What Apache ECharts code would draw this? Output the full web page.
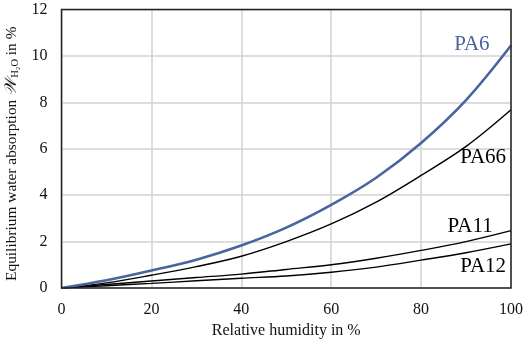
<!DOCTYPE html>
<html>
<head>
<meta charset="utf-8">
<script src="https://cdn.jsdelivr.net/npm/echarts@6/dist/echarts.min.js"></script>
<style>
  html, body { margin: 0; padding: 0; background: #fff; }
  #chart { width: 523px; height: 339px; }
</style>
</head>
<body>
<div id="chart"></div>
<script>
// Relative humidity (%) sample points
const humidity = [0, 10, 20, 30, 40, 50, 60, 70, 80, 90, 100];

// Equilibrium water absorption (%) for each polyamide
const pa6  = [0, 0.33, 0.75, 1.22, 1.83, 2.60, 3.58, 4.75, 6.25, 8.10, 10.45];
const pa66 = [0, 0.22, 0.55, 0.92, 1.37, 2.00, 2.76, 3.70, 4.85, 6.10, 7.68];
const pa11 = [0, 0.15, 0.30, 0.45, 0.60, 0.80, 1.00, 1.28, 1.62, 2.00, 2.47];
const pa12 = [0, 0.10, 0.20, 0.31, 0.42, 0.52, 0.68, 0.90, 1.20, 1.52, 1.90];

// Curve names and where their labels sit (data coordinates)
const names = ['PA6', 'PA66', 'PA11', 'PA12'];
const labelAt = [[91.3, 10.49], [93.8, 5.61], [90.9, 2.66], [93.8, 0.93]];

const xTicks = [0, 20, 40, 60, 80, 100];
const yTicks = [0, 2, 4, 6, 8, 10, 12];

const FONT = '"Liberation Serif", "DejaVu Serif", serif';
const BLUE = '#4a64a0';

function pairs(ys) { return humidity.map((x, i) => [x, ys[i]]); }

function makeSeries(name, ys, color, width, labelPos) {
  return {
    name: name,
    type: 'line',
    data: pairs(ys),
    smooth: 0.35,
    showSymbol: false,
    lineStyle: { color: color, width: width },
    z: 3,
    markPoint: {
      symbol: 'circle',
      symbolSize: 0,
      silent: true,
      data: [{ coord: labelPos }],
      label: {
        show: true,
        formatter: name,
        position: 'inside',
        color: color,
        fontFamily: FONT,
        fontSize: 21
      }
    }
  };
}

const chart = echarts.init(document.getElementById('chart'), null, { renderer: 'canvas' });
chart.setOption({
  animation: false,
  backgroundColor: '#fff',
  grid: {
    left: 61.5, right: 12, top: 9.5, bottom: 51,
    outerBoundsMode: 'none',
    containLabel: false,
    show: true, borderColor: '#222', borderWidth: 1.5, z: 4
  },
  xAxis: {
    type: 'value', min: 0, max: 100, interval: 20,
    name: 'Relative humidity in %',
    nameLocation: 'middle', nameGap: 31,
    nameTextStyle: { fontFamily: FONT, fontSize: 16, color: '#111' },
    axisLine: { show: false },
    axisTick: { show: false },
    axisLabel: {
      margin: 14, fontFamily: FONT, fontSize: 16, color: '#111',
      formatter: v => xTicks.includes(v) ? String(v) : ''
    },
    splitLine: { show: true, lineStyle: { color: '#d2d2d2', width: 1.5 } }
  },
  yAxis: {
    type: 'value', min: 0, max: 12, interval: 2,
    name: 'Equilibrium water absorption {w|𝒲}{s|H₂O} in %',
    nameLocation: 'middle', nameGap: 36,
    nameTextStyle: {
      fontFamily: FONT, fontSize: 15.4, color: '#111',
      padding: [0, 10, 0, 0],
      rich: {
        w: { fontFamily: FONT, fontSize: 16.5, color: '#111', fontStyle: 'italic' },
        s: { fontFamily: FONT, fontSize: 10.5, color: '#111', padding: [6, 0, 0, 1] }
      }
    },
    axisLine: { show: false },
    axisTick: { show: false },
    axisLabel: {
      margin: 14, fontFamily: FONT, fontSize: 16, color: '#111',
      formatter: v => yTicks.includes(v) ? String(v) : ''
    },
    splitLine: { show: true, lineStyle: { color: '#d2d2d2', width: 1.5 } }
  },
  series: [
    makeSeries(names[1], pa66, '#000', 1.4, labelAt[1]),
    makeSeries(names[2], pa11, '#000', 1.4, labelAt[2]),
    makeSeries(names[3], pa12, '#000', 1.4, labelAt[3]),
    makeSeries(names[0], pa6, BLUE, 2.6, labelAt[0])
  ]
});
</script>
</body>
</html>
